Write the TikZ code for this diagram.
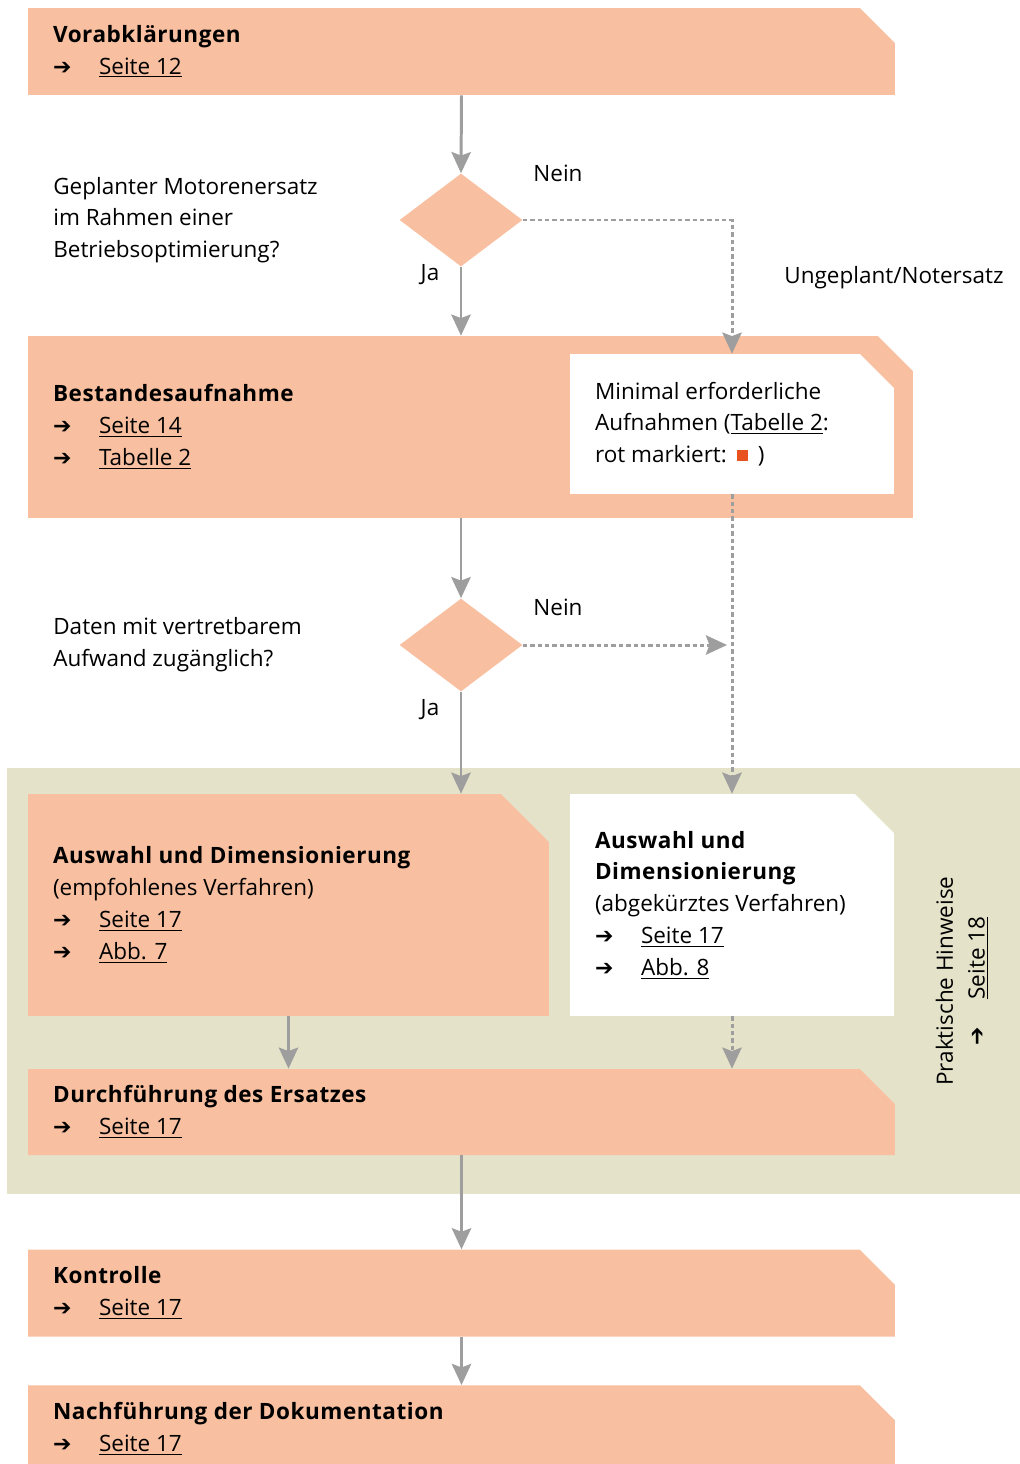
\documentclass[tikz,border=0pt]{standalone}
\usepackage{fontspec}
\setmainfont{Open Sans}[BoldFeatures={LetterSpace=2.4}]
\newfontfamily\symbolfont{DejaVu Sans}
\usepackage{tikz}
\usetikzlibrary{shapes.geometric, arrows.meta, positioning}
\definecolor{boxfill}{RGB}{248, 192, 160}
\definecolor{panelfill}{RGB}{228, 227, 201}
\definecolor{flowgray}{RGB}{158, 158, 158}
\definecolor{markred}{RGB}{232, 82, 30}
\newcommand{\linkarrow}{\makebox[0.92cm][l]{\symbolfont\fontsize{12.5}{12.5}\selectfont ➔}}
\newcommand{\seelink}[1]{\linkarrow\underline{#1}}
\newcommand{\redmark}{\raisebox{0.04cm}{\textcolor{markred}{\rule{0.22cm}{0.22cm}}}}
\tikzset{
  font=\fontsize{12.8}{18.1}\selectfont,
  cutbox/.style 2 args={
    rectangle, inner sep=0pt,
    path picture={
      \fill[#1] (path picture bounding box.south west)
        |- ([xshift=-#2]path picture bounding box.north east)
        -- ([yshift=-#2]path picture bounding box.north east)
        |- cycle;
    }
  },
  stepbox/.style={cutbox={boxfill}{#1}},
  stepbox/.default=0.7cm,
  notebox/.style={cutbox={white}{#1}},
  notebox/.default=0.7cm,
  decision/.style={
    diamond, fill=boxfill, inner sep=0pt,
    minimum width=2.46cm, minimum height=1.86cm
  },
  panel/.style={rectangle, fill=panelfill, inner sep=0pt},
  boxtext/.style={align=left, inner sep=0pt},
  flowline/.style={
    draw=flowgray, line width=1.7pt,
    -{Stealth[length=12pt, width=11pt, inset=2pt]}
  },
  dashflow/.style={flowline, line width=1.7pt, dash pattern=on 2.5pt off 1.7pt}
}
\begin{document}
\begin{tikzpicture}[x=0.02cm, y=-0.02cm]
  \useasboundingbox (0,0) rectangle (1020,1464);

  % Praktische Hinweise (Hintergrund)
  \node[panel, minimum width=20.26cm, minimum height=8.52cm] (praxis) at (513.5,981) {};

  % Vorabklaerungen
  \node[stepbox, minimum width=17.34cm, minimum height=1.74cm] (vorab) at (461.5,51.5) {};
  \node[boxtext, right=0.5cm of vorab.west] (vorabtext) {%
    \textbf{Vorabklärungen}\\
    \seelink{Seite 12}};

  % Frage 1
  \node[decision] (frage1) at (461,220) {};
  \node[boxtext, anchor=west] (frage1text) at (53,220) {%
    Geplanter Motorenersatz\\
    im Rahmen einer\\
    Betriebsoptimierung?};
  \node (nein1) at (558,173) {Nein};
  \node (ja1) at (430,275) {Ja};
  \node (notfall) at (894,278) {Ungeplant/Notersatz};

  % Bestandesaufnahme
  \node[stepbox, minimum width=17.7cm, minimum height=3.64cm] (bestand) at (470.5,427) {};
  \node[boxtext, right=0.5cm of bestand.west] (bestandtext) {%
    \textbf{Bestandesaufnahme}\\
    \seelink{Seite 14}\\
    \seelink{Tabelle 2}};
  \node[notebox=0.68cm, minimum width=6.48cm, minimum height=2.8cm] (minimal) at (732,424) {};
  \node[boxtext, right=0.5cm of minimal.west] (minimaltext) {%
    Minimal erforderliche\\
    Aufnahmen (\underline{Tabelle 2}:\\
    rot markiert:\hspace{0.2cm}\redmark\hspace{0.2cm})};

  % Frage 2
  \node[decision] (frage2) at (461,645) {};
  \node[boxtext, anchor=west] (frage2text) at (53,645) {%
    Daten mit vertretbarem\\
    Aufwand zugänglich?};
  \node (nein2) at (558,607) {Nein};
  \node (ja2) at (430,710) {Ja};
  \coordinate (merge) at (733,645);

  % Auswahl und Dimensionierung
  \node[stepbox=0.96cm, minimum width=10.42cm, minimum height=4.44cm] (empf) at (288.5,905) {};
  \node[boxtext, right=0.5cm of empf.west] (empftext) {%
    \textbf{Auswahl und Dimensionierung}\\
    (empfohlenes Verfahren)\\
    \seelink{Seite 17}\\
    \seelink{Abb. 7}};
  \node[notebox=0.78cm, minimum width=6.48cm, minimum height=4.44cm] (abgek) at (732,905) {};
  \node[boxtext, right=0.5cm of abgek.west] (abgektext) {%
    \textbf{Auswahl und}\\
    \textbf{Dimensionierung}\\
    (abgekürztes Verfahren)\\
    \seelink{Seite 17}\\
    \seelink{Abb. 8}};
  \node[align=center, rotate=90, inner sep=0pt] (hinweis) at (962,981) {%
    Praktische Hinweise\\
    \seelink{Seite 18}};

  % Durchfuehrung, Kontrolle, Nachfuehrung
  \node[stepbox, minimum width=17.34cm, minimum height=1.72cm] (durchf) at (461.5,1112) {};
  \node[boxtext, right=0.5cm of durchf.west] (durchftext) {%
    \textbf{Durchführung des Ersatzes}\\
    \seelink{Seite 17}};
  \node[stepbox, minimum width=17.34cm, minimum height=1.74cm, below=1.88cm of durchf] (kontrolle) {};
  \node[boxtext, right=0.5cm of kontrolle.west] (kontrolletext) {%
    \textbf{Kontrolle}\\
    \seelink{Seite 17}};
  \node[stepbox, minimum width=17.34cm, minimum height=1.74cm, below=0.96cm of kontrolle] (nachf) {};
  \node[boxtext, right=0.5cm of nachf.west] (nachftext) {%
    \textbf{Nachführung der Dokumentation}\\
    \seelink{Seite 17}};

  % Verbindungen
  \draw[flowline] (vorab.south) -- (frage1.north);
  \draw[flowline] (frage1.south) -- (frage1.south |- bestand.north);
  \draw[dashflow] (frage1.east) -| (minimal.north);
  \draw[flowline] (frage2.north |- bestand.south) -- (frage2.north);
  \draw[dashflow] (minimal.south) -- (abgek.north);
  \draw[dashflow, shorten >=0.12cm] (frage2.east) -- (merge);
  \draw[flowline] (frage2.south) -- (frage2.south |- empf.north);
  \draw[flowline] (empf.south) -- (empf.south |- durchf.north);
  \draw[dashflow] (abgek.south) -- (abgek.south |- durchf.north);
  \draw[flowline] (durchf.south) -- (kontrolle.north);
  \draw[flowline] (kontrolle.south) -- (nachf.north);

\end{tikzpicture}
\end{document}
